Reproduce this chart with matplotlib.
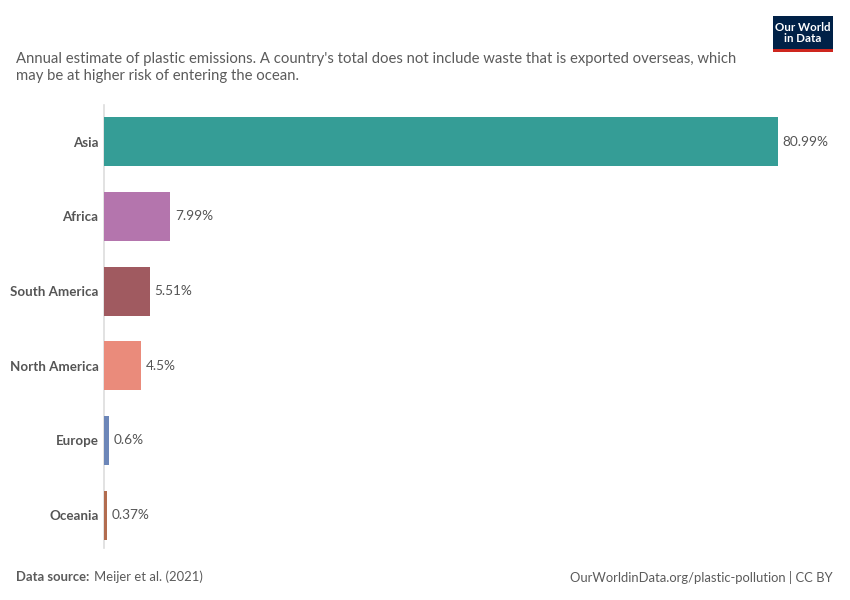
import matplotlib
matplotlib.use('Agg')
import matplotlib.pyplot as plt
from matplotlib.patches import Rectangle

plt.rcParams['font.family'] = ['Lato', 'DejaVu Sans']

# data
regions = ['Asia', 'Africa', 'South America', 'North America', 'Europe', 'Oceania']
shares = [80.99, 7.99, 5.51, 4.5, 0.6, 0.37]
share_labels = ['80.99%', '7.99%', '5.51%', '4.5%', '0.6%', '0.37%']
colors = ['#359d96', '#b475ad', '#a05a60', '#ea8b7b', '#6c86b8', '#b26c4f']

subtitle = ("Annual estimate of plastic emissions. A country's total does not include waste that is exported overseas, which\n"
            "may be at higher risk of entering the ocean.")

W, H = 850, 600
fig = plt.figure(figsize=(W / 100, H / 100), dpi=100)
ax = fig.add_axes([104 / W, 52 / H, (830 - 104) / W, (495 - 52) / H])

ypos = list(range(len(regions)))
ax.barh(ypos, shares, height=0.656, color=colors, edgecolor='none')
for y, v, lab in zip(ypos, shares, share_labels):
    ax.text(v + 0.55, y, lab, va='center', ha='left', fontsize=9.8, color='#555555')

ax.set_xlim(0, (830 - 104) / (674 / 80.99))
ax.set_ylim(5.44, -0.49)
ax.set_yticks(ypos)
ax.set_yticklabels(regions, fontsize=9.6, fontweight='bold', color='#555555')
ax.tick_params(axis='y', length=0, pad=4)
ax.set_xticks([])
for s in ['top', 'right', 'bottom']:
    ax.spines[s].set_visible(False)
ax.spines['left'].set_color('#dddddd')
ax.spines['left'].set_linewidth(1.2)
ax.spines['left'].set_zorder(0)

# subtitle
fig.text(16 / W, 1 - 52 / H, subtitle, fontsize=10.75, color='#5b5b5b', va='top', ha='left', linespacing=1.3)

# footer
fig.text(16 / W, 1 - 577 / H, 'Data source:', fontsize=9.4, fontweight='bold', color='#5b5b5b', va='center', ha='left')
fig.text(94 / W, 1 - 577 / H, 'Meijer et al. (2021)', fontsize=9.4, color='#5b5b5b', va='center', ha='left')
fig.text(833 / W, 1 - 577 / H, 'OurWorldinData.org/plastic-pollution | CC BY', fontsize=9.4, color='#5b5b5b',
         va='center', ha='right')

# logo
fig.patches.append(Rectangle((773 / W, 1 - 52 / H), 60 / W, 36 / H, transform=fig.transFigure,
                             facecolor='#002147', edgecolor='none'))
fig.patches.append(Rectangle((773 / W, 1 - 52 / H), 60 / W, 3 / H, transform=fig.transFigure,
                             facecolor='#ce261e', edgecolor='none'))
fig.text(803 / W, 1 - 33 / H, 'Our World\nin Data', fontsize=8.3, fontweight='bold', color='white',
         va='center', ha='center', linespacing=1.0)

fig.savefig('out.png', dpi=100)
